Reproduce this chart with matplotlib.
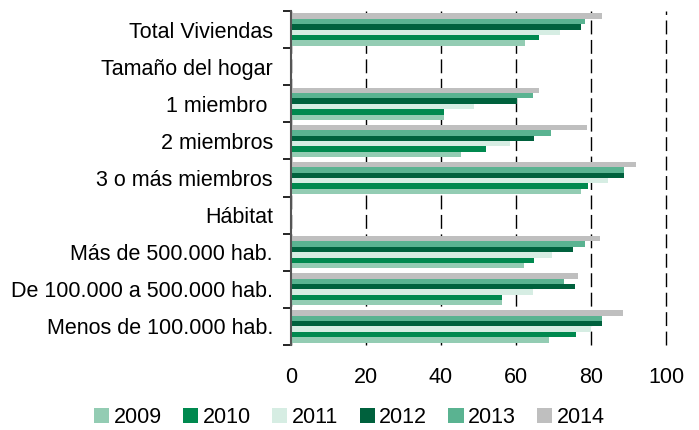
import matplotlib
matplotlib.use("Agg")
import matplotlib.pyplot as plt
import numpy as np

plt.rcParams['font.family'] = ['Liberation Sans', 'DejaVu Sans']

# categories, top to bottom
categories = ['Total Viviendas', 'Tamaño del hogar', '1 miembro ', '2 miembros',
              '3 o más miembros', 'Hábitat', 'Más de 500.000 hab.',
              'De 100.000 a 500.000 hab.', 'Menos de 100.000 hab.']
years = ['2009', '2010', '2011', '2012', '2013', '2014']
colors = ['#93CCB3', '#00894F', '#D6EDE3', '#00613D', '#5AB391', '#BFBFBF']

nan = np.nan
v2009 = [62.5, nan, 40.9, 45.4, 77.2, nan, 62.2, 56.3, 68.9]
v2010 = [66.2, nan, 40.9, 52.1, 79.3, nan, 64.9, 56.3, 76.1]
v2011 = [71.6, nan, 48.9, 58.5, 84.4, nan, 69.7, 64.4, 80.1]
v2012 = [77.4, nan, 60.3, 64.9, 88.9, nan, 75.3, 75.6, 83.0]
v2013 = [78.5, nan, 64.4, 69.4, 88.9, nan, 78.5, 72.9, 83.0]
v2014 = [83.0, nan, 66.2, 78.8, 91.9, nan, 82.5, 76.6, 88.4]
series = [v2009, v2010, v2011, v2012, v2013, v2014]

fig = plt.figure(figsize=(6.99, 4.30), dpi=100)
ax = fig.add_axes([0.4163, 0.1977, 0.9528 - 0.4163, 0.9744 - 0.1977])

y = np.arange(len(categories))
h = 0.145
for i, vals in enumerate(series):
    ax.barh(y + (2.5 - i) * h, vals, height=h, color=colors[i], label=years[i],
            zorder=3)

ax.set_xlim(0, 100)
ax.set_ylim(len(categories) - 0.5, -0.5)
ax.set_xticks([0, 20, 40, 60, 80, 100])
ax.set_yticks(y)
ax.set_yticklabels(categories)
ax.set_yticks(np.arange(-0.5, len(categories), 1), minor=True)
ax.tick_params(axis='y', which='major', length=0, pad=13, labelsize=15.5)
ax.tick_params(axis='y', which='minor', length=6, width=1.2, color='black')
ax.tick_params(axis='x', length=0, pad=16, labelsize=15.5)

for s in ['top', 'right', 'bottom']:
    ax.spines[s].set_visible(False)
ax.spines['left'].set_color('#555555')
ax.spines['left'].set_linewidth(1.5)
ax.spines['left'].set_zorder(4)

ax.xaxis.grid(True, color='black', linewidth=1.0, linestyle=(0, (10, 4)))
for gl in ax.get_xgridlines():
    gl.set_clip_on(False)
ax.set_axisbelow(True)

fig.legend(loc='center', bbox_to_anchor=(0.5, 0.03), ncol=6, frameon=False,
           fontsize=15.5, handlelength=0.7, handleheight=0.7, handletextpad=0.2,
           columnspacing=1.0)

fig.savefig('out.png', dpi=100)
